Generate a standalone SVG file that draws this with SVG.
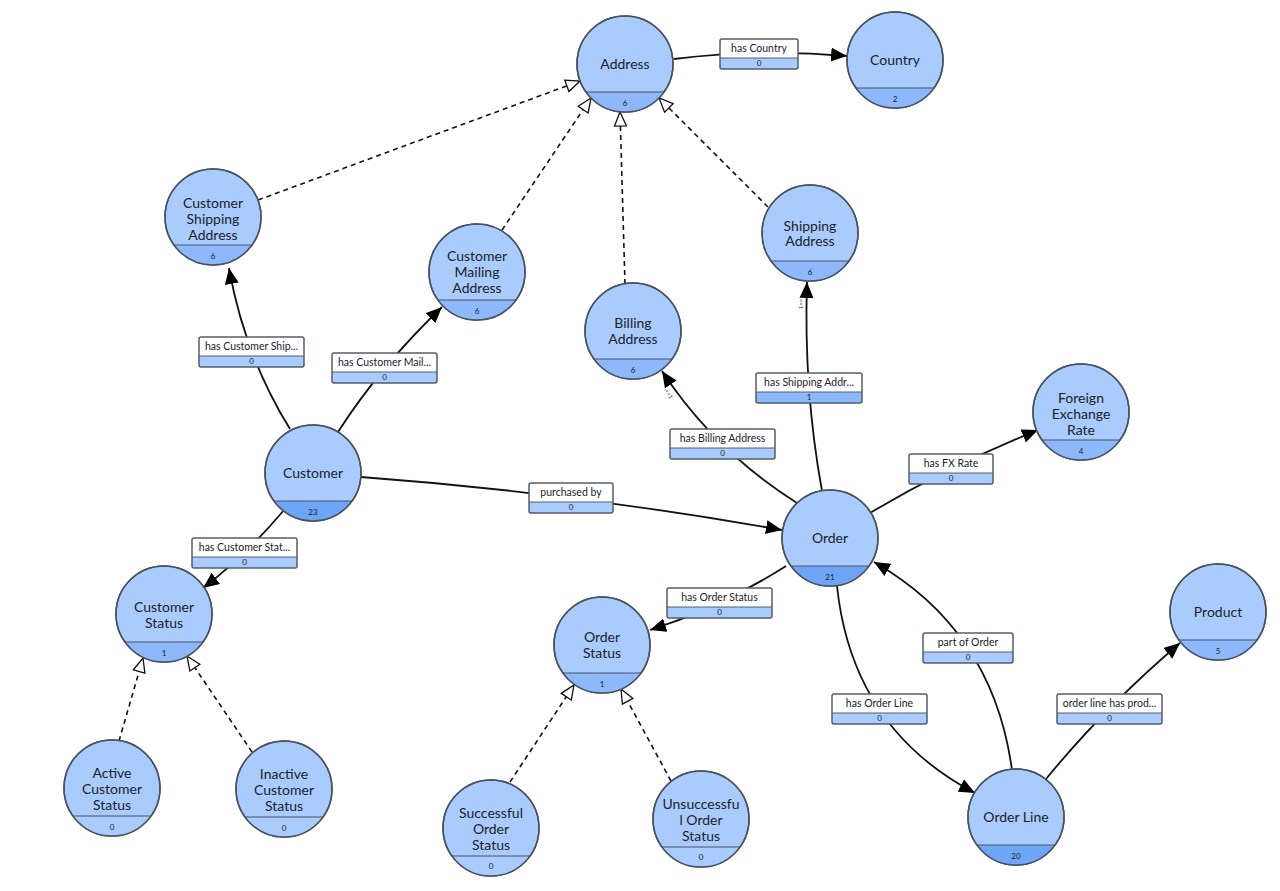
<svg xmlns="http://www.w3.org/2000/svg" width="1280" height="891" viewBox="0 0 1280 891">
<style>
.bg{fill:#ffffff}
.nc{fill:#a9cbfd;stroke:#4a5360;stroke-width:1.5}
.b0{fill:#a9cbfd}
.b1{fill:#8db8fb}
.b2{fill:#6fa5f7}
.bl{stroke:#4a5360;stroke-width:1}
.nt{font-family:Lato,"Liberation Sans",sans-serif;font-size:14px;fill:#1c222b;text-anchor:middle}
.ct{font-family:Lato,"Liberation Sans",sans-serif;font-size:8px;fill:#1c222b;text-anchor:middle}
.lt{font-family:Lato,"Liberation Sans",sans-serif;font-size:10.5px;fill:#1c222b;text-anchor:middle}
.lw{fill:#ffffff}
.lb0{fill:#a9cbfd}
.lb1{fill:#8db8fb}
.lo{fill:none;stroke:#555e6a;stroke-width:1.5}
.ls{stroke:#555e6a;stroke-width:1}
.e{fill:none;stroke:#111111;stroke-width:1.8}
.d{fill:none;stroke:#111111;stroke-width:1.6;stroke-dasharray:5 4}
.card{font-family:Lato,"Liberation Sans",sans-serif;font-size:6px;fill:#333333;text-anchor:middle}
</style>
<defs>
<marker id="arr" markerUnits="userSpaceOnUse" viewBox="0 0 16 14" refX="16" refY="7" markerWidth="16" markerHeight="14" orient="auto">
<path d="M0,0 L16,7 L0,14 Z" fill="#000000"/>
</marker>
<marker id="tri" markerUnits="userSpaceOnUse" viewBox="-1 -1 16 14" refX="14" refY="6" markerWidth="16" markerHeight="14" orient="auto">
<path d="M0,0 L14,6 L0,12 Z" fill="#ffffff" stroke="#111111" stroke-width="1.3"/>
</marker>
</defs>
<rect class="bg" x="0" y="0" width="1280" height="891"/>

<g id="connectors">
<path class="e" d="M674,59 Q760,48.5 847,56" marker-end="url(#arr)"/>
<path class="d" d="M258,200 L580,81" marker-end="url(#tri)"/>
<path class="d" d="M502,230 L591,98" marker-end="url(#tri)"/>
<path class="d" d="M625,284 L620,112" marker-end="url(#tri)"/>
<path class="d" d="M768,207 L659,98" marker-end="url(#tri)"/>
<path class="e" d="M290,429 Q244.5,355.5 229,268" marker-end="url(#arr)"/>
<path class="e" d="M338,432 Q380,366.5 442,307" marker-end="url(#arr)"/>
<path class="e" d="M361,477 Q570.5,492.5 782,530" marker-end="url(#arr)"/>
<path class="e" d="M284,510 Q244.5,557 203,588" marker-end="url(#arr)"/>
<path class="e" d="M797,503 Q714.5,451 662,371" marker-end="url(#arr)"/>
<path class="e" d="M822,491 Q803.5,389.5 807,282" marker-end="url(#arr)"/>
<path class="e" d="M870,513 Q948,466.5 1038,430" marker-end="url(#arr)"/>
<path class="e" d="M786,566 Q720,608 650,630" marker-end="url(#arr)"/>
<path class="e" d="M837,586 Q852,728.5 975,793" marker-end="url(#arr)"/>
<path class="e" d="M1012,770 Q993,630 874,562" marker-end="url(#arr)"/>
<path class="e" d="M1046,779 Q1105,707 1180,643" marker-end="url(#arr)"/>
<path class="d" d="M119,741 L143,658" marker-end="url(#tri)"/>
<path class="d" d="M252,752 L187,656" marker-end="url(#tri)"/>
<path class="d" d="M510,782 L574,685" marker-end="url(#tri)"/>
<path class="d" d="M671,781 L621,689" marker-end="url(#tri)"/>
<text class="card" transform="translate(667,395) rotate(57)">==1</text>
<text class="card" transform="translate(799,304) rotate(90)">==1</text>
</g>

<g id="edge-labels">
<g id="lbl-has-country"><rect class="lw" x="720" y="39" width="78" height="19"/><rect class="lb0" x="720" y="58" width="78" height="11"/><line class="ls" x1="720" y1="58" x2="798" y2="58"/><rect class="lo" x="720" y="39" width="78" height="30" rx="2"/><text class="lt" x="759" y="52">has Country</text><text class="ct" x="759" y="66">0</text></g>
<g id="lbl-has-cust-ship"><rect class="lw" x="199" y="337" width="105" height="19"/><rect class="lb0" x="199" y="356" width="105" height="11"/><line class="ls" x1="199" y1="356" x2="304" y2="356"/><rect class="lo" x="199" y="337" width="105" height="30" rx="2"/><text class="lt" x="251.5" y="350">has Customer Ship...</text><text class="ct" x="251.5" y="364">0</text></g>
<g id="lbl-has-cust-mail"><rect class="lw" x="332" y="353" width="105" height="19"/><rect class="lb0" x="332" y="372" width="105" height="11"/><line class="ls" x1="332" y1="372" x2="437" y2="372"/><rect class="lo" x="332" y="353" width="105" height="30" rx="2"/><text class="lt" x="384.5" y="366">has Customer Mail...</text><text class="ct" x="384.5" y="380">0</text></g>
<g id="lbl-has-ship-addr"><rect class="lw" x="756" y="373" width="106" height="19"/><rect class="lb1" x="756" y="392" width="106" height="11"/><line class="ls" x1="756" y1="392" x2="862" y2="392"/><rect class="lo" x="756" y="373" width="106" height="30" rx="2"/><text class="lt" x="809" y="386">has Shipping Addr...</text><text class="ct" x="809" y="400">1</text></g>
<g id="lbl-has-bill-addr"><rect class="lw" x="670" y="429" width="105" height="19"/><rect class="lb0" x="670" y="448" width="105" height="11"/><line class="ls" x1="670" y1="448" x2="775" y2="448"/><rect class="lo" x="670" y="429" width="105" height="30" rx="2"/><text class="lt" x="722.5" y="442">has Billing Address</text><text class="ct" x="722.5" y="456">0</text></g>
<g id="lbl-has-fx"><rect class="lw" x="909" y="454" width="84" height="19"/><rect class="lb0" x="909" y="473" width="84" height="11"/><line class="ls" x1="909" y1="473" x2="993" y2="473"/><rect class="lo" x="909" y="454" width="84" height="30" rx="2"/><text class="lt" x="951" y="467">has FX Rate</text><text class="ct" x="951" y="481">0</text></g>
<g id="lbl-purchased-by"><rect class="lw" x="529" y="483" width="84" height="19"/><rect class="lb0" x="529" y="502" width="84" height="11"/><line class="ls" x1="529" y1="502" x2="613" y2="502"/><rect class="lo" x="529" y="483" width="84" height="30" rx="2"/><text class="lt" x="571" y="496">purchased by</text><text class="ct" x="571" y="510">0</text></g>
<g id="lbl-has-cust-stat"><rect class="lw" x="192" y="538" width="105" height="19"/><rect class="lb0" x="192" y="557" width="105" height="11"/><line class="ls" x1="192" y1="557" x2="297" y2="557"/><rect class="lo" x="192" y="538" width="105" height="30" rx="2"/><text class="lt" x="244.5" y="551">has Customer Stat...</text><text class="ct" x="244.5" y="565">0</text></g>
<g id="lbl-has-order-stat"><rect class="lw" x="667" y="588" width="105" height="19"/><rect class="lb0" x="667" y="607" width="105" height="11"/><line class="ls" x1="667" y1="607" x2="772" y2="607"/><rect class="lo" x="667" y="588" width="105" height="30" rx="2"/><text class="lt" x="719.5" y="601">has Order Status</text><text class="ct" x="719.5" y="615">0</text></g>
<g id="lbl-part-of-order"><rect class="lw" x="923" y="633" width="90" height="19"/><rect class="lb0" x="923" y="652" width="90" height="11"/><line class="ls" x1="923" y1="652" x2="1013" y2="652"/><rect class="lo" x="923" y="633" width="90" height="30" rx="2"/><text class="lt" x="968" y="646">part of Order</text><text class="ct" x="968" y="660">0</text></g>
<g id="lbl-has-order-line"><rect class="lw" x="832" y="694" width="95" height="19"/><rect class="lb0" x="832" y="713" width="95" height="11"/><line class="ls" x1="832" y1="713" x2="927" y2="713"/><rect class="lo" x="832" y="694" width="95" height="30" rx="2"/><text class="lt" x="879.5" y="707">has Order Line</text><text class="ct" x="879.5" y="721">0</text></g>
<g id="lbl-ol-product"><rect class="lw" x="1057" y="694" width="105" height="19"/><rect class="lb0" x="1057" y="713" width="105" height="11"/><line class="ls" x1="1057" y1="713" x2="1162" y2="713"/><rect class="lo" x="1057" y="694" width="105" height="30" rx="2"/><text class="lt" x="1109.5" y="707">order line has prod...</text><text class="ct" x="1109.5" y="721">0</text></g>
</g>

<g id="node-address"><circle class="nc" cx="625" cy="64" r="48"/><path class="b1" d="M586,92 A48,48 0 0 0 664,92 Z"/><line class="bl" x1="586" y1="92" x2="664" y2="92"/><circle cx="625" cy="64" r="48" fill="none" stroke="#4a5360" stroke-width="1.5"/><text class="nt" x="625" y="69">Address</text><text class="ct" x="625" y="106">6</text></g>
<g id="node-country"><circle class="nc" cx="895" cy="60" r="48"/><path class="b1" d="M856,88 A48,48 0 0 0 934,88 Z"/><line class="bl" x1="856" y1="88" x2="934" y2="88"/><circle cx="895" cy="60" r="48" fill="none" stroke="#4a5360" stroke-width="1.5"/><text class="nt" x="895" y="65">Country</text><text class="ct" x="895" y="102">2</text></g>
<g id="node-cust-ship-addr"><circle class="nc" cx="213" cy="217" r="48"/><path class="b1" d="M174,245 A48,48 0 0 0 252,245 Z"/><line class="bl" x1="174" y1="245" x2="252" y2="245"/><circle cx="213" cy="217" r="48" fill="none" stroke="#4a5360" stroke-width="1.5"/><text class="nt" x="213" y="208">Customer</text><text class="nt" x="213" y="224">Shipping</text><text class="nt" x="213" y="240">Address</text><text class="ct" x="213" y="259">6</text></g>
<g id="node-cust-mail-addr"><circle class="nc" cx="477" cy="272" r="48"/><path class="b1" d="M438,300 A48,48 0 0 0 516,300 Z"/><line class="bl" x1="438" y1="300" x2="516" y2="300"/><circle cx="477" cy="272" r="48" fill="none" stroke="#4a5360" stroke-width="1.5"/><text class="nt" x="477" y="261">Customer</text><text class="nt" x="477" y="277">Mailing</text><text class="nt" x="477" y="293">Address</text><text class="ct" x="477" y="314">6</text></g>
<g id="node-billing-addr"><circle class="nc" cx="633" cy="331" r="48"/><path class="b1" d="M594,359 A48,48 0 0 0 672,359 Z"/><line class="bl" x1="594" y1="359" x2="672" y2="359"/><circle cx="633" cy="331" r="48" fill="none" stroke="#4a5360" stroke-width="1.5"/><text class="nt" x="633" y="328">Billing</text><text class="nt" x="633" y="344">Address</text><text class="ct" x="633" y="373">6</text></g>
<g id="node-shipping-addr"><circle class="nc" cx="810" cy="233" r="48"/><path class="b1" d="M771,261 A48,48 0 0 0 849,261 Z"/><line class="bl" x1="771" y1="261" x2="849" y2="261"/><circle cx="810" cy="233" r="48" fill="none" stroke="#4a5360" stroke-width="1.5"/><text class="nt" x="810" y="231">Shipping</text><text class="nt" x="810" y="246">Address</text><text class="ct" x="810" y="275">6</text></g>
<g id="node-customer"><circle class="nc" cx="313" cy="473" r="48"/><path class="b2" d="M274,501 A48,48 0 0 0 352,501 Z"/><line class="bl" x1="274" y1="501" x2="352" y2="501"/><circle cx="313" cy="473" r="48" fill="none" stroke="#4a5360" stroke-width="1.5"/><text class="nt" x="313" y="478">Customer</text><text class="ct" x="313" y="515">23</text></g>
<g id="node-fx-rate"><circle class="nc" cx="1081" cy="412" r="48"/><path class="b1" d="M1042,440 A48,48 0 0 0 1120,440 Z"/><line class="bl" x1="1042" y1="440" x2="1120" y2="440"/><circle cx="1081" cy="412" r="48" fill="none" stroke="#4a5360" stroke-width="1.5"/><text class="nt" x="1081" y="403">Foreign</text><text class="nt" x="1081" y="419">Exchange</text><text class="nt" x="1081" y="435">Rate</text><text class="ct" x="1081" y="454">4</text></g>
<g id="node-order"><circle class="nc" cx="830" cy="538" r="48"/><path class="b2" d="M791,566 A48,48 0 0 0 869,566 Z"/><line class="bl" x1="791" y1="566" x2="869" y2="566"/><circle cx="830" cy="538" r="48" fill="none" stroke="#4a5360" stroke-width="1.5"/><text class="nt" x="830" y="543">Order</text><text class="ct" x="830" y="580">21</text></g>
<g id="node-customer-status"><circle class="nc" cx="164" cy="614" r="48"/><path class="b1" d="M125,642 A48,48 0 0 0 203,642 Z"/><line class="bl" x1="125" y1="642" x2="203" y2="642"/><circle cx="164" cy="614" r="48" fill="none" stroke="#4a5360" stroke-width="1.5"/><text class="nt" x="164" y="612">Customer</text><text class="nt" x="164" y="628">Status</text><text class="ct" x="164" y="656">1</text></g>
<g id="node-order-status"><circle class="nc" cx="602" cy="645" r="48"/><path class="b1" d="M563,673 A48,48 0 0 0 641,673 Z"/><line class="bl" x1="563" y1="673" x2="641" y2="673"/><circle cx="602" cy="645" r="48" fill="none" stroke="#4a5360" stroke-width="1.5"/><text class="nt" x="602" y="642">Order</text><text class="nt" x="602" y="658">Status</text><text class="ct" x="602" y="687">1</text></g>
<g id="node-product"><circle class="nc" cx="1218" cy="612" r="48"/><path class="b1" d="M1179,640 A48,48 0 0 0 1257,640 Z"/><line class="bl" x1="1179" y1="640" x2="1257" y2="640"/><circle cx="1218" cy="612" r="48" fill="none" stroke="#4a5360" stroke-width="1.5"/><text class="nt" x="1218" y="617">Product</text><text class="ct" x="1218" y="654">5</text></g>
<g id="node-active-cs"><circle class="nc" cx="112" cy="788" r="48"/><path class="b0" d="M73,816 A48,48 0 0 0 151,816 Z"/><line class="bl" x1="73" y1="816" x2="151" y2="816"/><circle cx="112" cy="788" r="48" fill="none" stroke="#4a5360" stroke-width="1.5"/><text class="nt" x="112" y="778">Active</text><text class="nt" x="112" y="794">Customer</text><text class="nt" x="112" y="810">Status</text><text class="ct" x="112" y="830">0</text></g>
<g id="node-inactive-cs"><circle class="nc" cx="284" cy="789" r="48"/><path class="b0" d="M245,817 A48,48 0 0 0 323,817 Z"/><line class="bl" x1="245" y1="817" x2="323" y2="817"/><circle cx="284" cy="789" r="48" fill="none" stroke="#4a5360" stroke-width="1.5"/><text class="nt" x="284" y="779">Inactive</text><text class="nt" x="284" y="795">Customer</text><text class="nt" x="284" y="811">Status</text><text class="ct" x="284" y="831">0</text></g>
<g id="node-successful-os"><circle class="nc" cx="491" cy="828" r="48"/><path class="b0" d="M452,856 A48,48 0 0 0 530,856 Z"/><line class="bl" x1="452" y1="856" x2="530" y2="856"/><circle cx="491" cy="828" r="48" fill="none" stroke="#4a5360" stroke-width="1.5"/><text class="nt" x="491" y="818">Successful</text><text class="nt" x="491" y="834">Order</text><text class="nt" x="491" y="850">Status</text><text class="ct" x="491" y="869">0</text></g>
<g id="node-unsuccessful-os"><circle class="nc" cx="701" cy="819" r="48"/><path class="b0" d="M662,847 A48,48 0 0 0 740,847 Z"/><line class="bl" x1="662" y1="847" x2="740" y2="847"/><circle cx="701" cy="819" r="48" fill="none" stroke="#4a5360" stroke-width="1.5"/><text class="nt" x="701" y="809">Unsuccessfu</text><text class="nt" x="701" y="825">l Order</text><text class="nt" x="701" y="841">Status</text><text class="ct" x="701" y="860">0</text></g>
<g id="node-order-line"><circle class="nc" cx="1016" cy="817" r="48"/><path class="b2" d="M977,845 A48,48 0 0 0 1055,845 Z"/><line class="bl" x1="977" y1="845" x2="1055" y2="845"/><circle cx="1016" cy="817" r="48" fill="none" stroke="#4a5360" stroke-width="1.5"/><text class="nt" x="1016" y="822">Order Line</text><text class="ct" x="1016" y="859">20</text></g>
</svg>
